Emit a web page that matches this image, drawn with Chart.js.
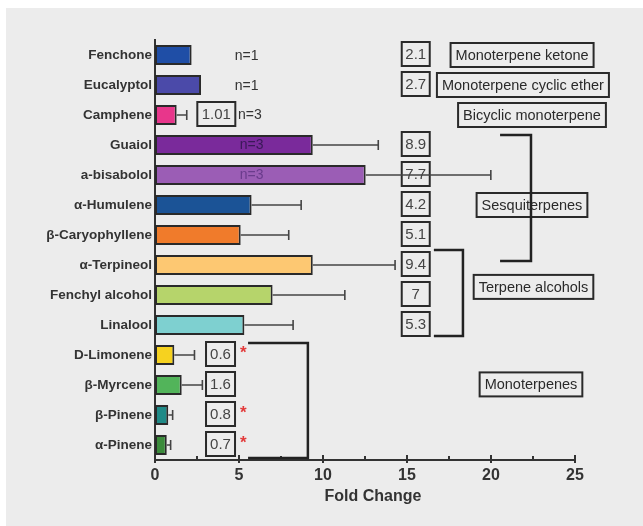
<!DOCTYPE html>
<html>
<head>
<meta charset="utf-8">
<script src="https://cdn.jsdelivr.net/npm/chart.js@4.4.1/dist/chart.umd.min.js"></script>
<style>
  html, body { margin: 0; padding: 0; background: #ffffff; }
  #wrap { width: 643px; height: 526px; position: relative; }
</style>
</head>
<body>
<div id="wrap"><canvas id="c"></canvas></div>
<script>
// ---------- data ----------
const categories = ['Fenchone', 'Eucalyptol', 'Camphene', 'Guaiol', 'a-bisabolol', 'α-Humulene',
  'β-Caryophyllene', 'α-Terpineol', 'Fenchyl alcohol', 'Linalool', 'D-Limonene', 'β-Myrcene',
  'β-Pinene', 'α-Pinene'];
const foldChange = [2.18, 2.74, 1.29, 9.39, 12.54, 5.75, 5.1, 9.39, 7.0, 5.32, 1.15, 1.59, 0.79, 0.70];
const errorSEM   = [0, 0, 0.6, 3.9, 7.45, 2.95, 2.86, 4.9, 4.3, 2.9, 1.2, 1.23, 0.26, 0.23];
const boxedValues = ['2.1', '2.7', '1.01', '8.9', '7.7', '4.2', '5.1', '9.4', '7', '5.3', '0.6', '1.6', '0.8', '0.7'];
const sampleSizes = ['n=1', 'n=1', 'n=3', 'n=3', 'n=3', '', '', '', '', '', '', '', '', ''];
const significant = [false, false, false, false, false, false, false, false, false, false, true, false, true, true];
const barColors = ['#1f4ea6', '#4b4aa9', '#e8368b', '#7a2a9b', '#9b5db5', '#1b5396', '#f07b2b',
  '#fdc872', '#b6d46b', '#7ed0d0', '#f6d21f', '#52b45a', '#1f8a87', '#3b8b3b'];
const groupNames = ['Monoterpene ketone', 'Monoterpene cyclic ether', 'Bicyclic monoterpene',
  'Sesquiterpenes', 'Terpene alcohols', 'Monoterpenes'];
const xTickValues = [0, 5, 10, 15, 20, 25];
const axisTitle = 'Fold Change';

// ---------- annotation plugin ----------
const annot = {
  id: 'annot',
  beforeDraw(chart) {
    const ctx = chart.ctx;
    ctx.save();
    ctx.fillStyle = '#ffffff';
    ctx.fillRect(0, 0, chart.width, chart.height);
    ctx.fillStyle = '#ececec';
    ctx.fillRect(6, 8, chart.width - 6, chart.height - 8);
    ctx.restore();
  },
  afterDraw(chart) {
    const ctx = chart.ctx;
    const xs = chart.scales.x, ys = chart.scales.y;
    const X = v => xs.getPixelForValue(v);
    const Y = v => ys.getPixelForValue(v);
    ctx.save();

    // x-axis tick marks (inside)
    ctx.strokeStyle = '#333';
    ctx.lineWidth = 2;
    for (let v = 0; v <= 25; v += 2.5) {
      const px = X(v), major = v % 5 === 0;
      ctx.beginPath();
      ctx.moveTo(px, xs.top - (major ? 5 : 4));
      ctx.lineTo(px, xs.top + (major ? 3 : 0));
      ctx.stroke();
    }

    // boxed values
    ctx.font = '15px "Liberation Sans", Arial, sans-serif';
    ctx.textAlign = 'center';
    ctx.textBaseline = 'middle';
    boxedValues.forEach((t, i) => {
      const col = i === 2 ? 3.65 : (i >= 10 ? 3.9 : 15.52);
      const w = i === 2 ? 38 : (i >= 10 ? 29 : 28);
      const cx = X(col), cy = Y(i) - 1;
      ctx.strokeStyle = '#2a2a2a';
      ctx.lineWidth = 2;
      ctx.strokeRect(cx - w / 2, cy - 12, w, 24);
      ctx.fillStyle = '#444';
      ctx.fillText(t, cx, cy + 1);
    });

    // n labels
    ctx.font = '14px "Liberation Sans", Arial, sans-serif';
    sampleSizes.forEach((t, i) => {
      if (!t) return;
      const col = i < 2 ? 5.45 : (i === 2 ? 5.65 : 5.75);
      ctx.fillStyle = i === 3 ? '#3a1858' : (i === 4 ? '#6a3b8c' : '#333');
      ctx.fillText(t, X(col), Y(i) + (i < 2 ? 1 : 0));
    });

    // asterisks
    ctx.font = 'bold 17px "Liberation Sans", Arial, sans-serif';
    ctx.fillStyle = '#e23a3a';
    significant.forEach((s, i) => {
      if (s) ctx.fillText('*', X(5.25), Y(i) - 2);
    });

    // group label boxes
    ctx.font = '14.5px "Liberation Sans", Arial, sans-serif';
    const gpos = [[21.85, 0], [21.9, 1], [22.44, 2], [22.44, 5], [22.53, 7.73], [22.38, 10.98]];
    groupNames.forEach((t, k) => {
      const cx = X(gpos[k][0]), cy = Y(gpos[k][1]);
      const w = ctx.measureText(t).width + 10;
      ctx.strokeStyle = '#2a2a2a';
      ctx.lineWidth = 2;
      ctx.strokeRect(cx - w / 2, cy - 12, w, 24);
      ctx.fillStyle = '#2a2a2a';
      ctx.fillText(t, cx, cy + 1);
    });

    // brackets
    ctx.strokeStyle = '#222';
    ctx.lineWidth = 2.5;
    const bracket = (x0, x1, r0, r1) => {
      ctx.beginPath();
      ctx.moveTo(X(x0), Y(r0));
      ctx.lineTo(X(x1), Y(r0));
      ctx.lineTo(X(x1), Y(r1));
      ctx.lineTo(X(x0), Y(r1));
      ctx.stroke();
    };
    bracket(20.54, 22.38, 2.67, 6.87);
    bracket(16.6, 18.33, 6.5, 9.37);
    bracket(5.54, 9.1, 9.6, 13.43);

    // error bars
    ctx.strokeStyle = '#444';
    ctx.lineWidth = 1.6;
    foldChange.forEach((v, i) => {
      const e = errorSEM[i];
      if (!e) return;
      const y = Y(i), x0 = X(v), x1 = X(v + e);
      ctx.beginPath();
      ctx.moveTo(x0, y); ctx.lineTo(x1, y);
      ctx.moveTo(x1, y - 5); ctx.lineTo(x1, y + 5);
      ctx.stroke();
    });

    // axis title
    ctx.font = 'bold 16px "Liberation Sans", Arial, sans-serif';
    ctx.fillStyle = '#333';
    ctx.fillText(axisTitle, 373, 497);
    ctx.restore();
  }
};

new Chart(document.getElementById('c'), {
  type: 'bar',
  data: {
    labels: categories,
    datasets: [{
      data: foldChange,
      backgroundColor: barColors,
      borderColor: '#2a2a2a',
      borderWidth: 2,
      borderSkipped: false,
      barPercentage: 0.67,
      categoryPercentage: 1.0
    }]
  },
  options: {
    indexAxis: 'y',
    responsive: true,
    maintainAspectRatio: false,
    animation: false,
    layout: { padding: { top: 40, right: 68, left: 0, bottom: 0 } },
    plugins: { legend: { display: false }, tooltip: { enabled: false } },
    scales: {
      x: {
        min: 0, max: 25,
        afterBuildTicks: s => { s.ticks = xTickValues.map(v => ({ value: v })); },
        afterFit: s => { s.height = 66; },
        ticks: {
          color: '#333',
          font: { family: '"Liberation Sans", Arial, sans-serif', size: 16, weight: 'bold' },
          padding: 6,
          maxRotation: 0
        },
        grid: { display: false, drawTicks: false },
        border: { display: true, color: '#333', width: 2 }
      },
      y: {
        afterFit: s => { s.width = 155; },
        ticks: {
          color: '#333',
          font: { family: '"Liberation Sans", Arial, sans-serif', size: 13.5, weight: 'bold' },
          padding: 3
        },
        grid: { display: false, drawTicks: false },
        border: { display: true, color: '#333', width: 2 }
      }
    }
  },
  plugins: [annot]
});
</script>
</body>
</html>
